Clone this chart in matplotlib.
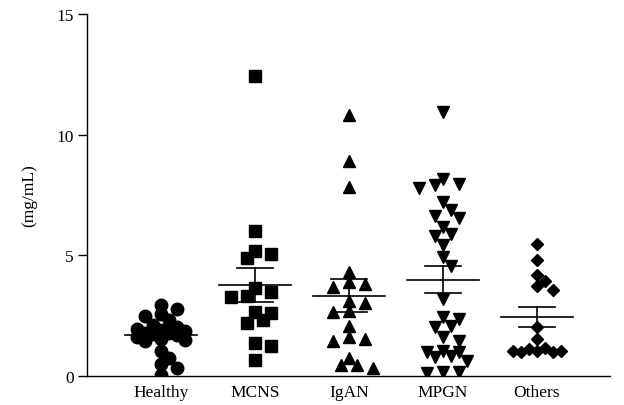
import numpy as np
import matplotlib.pyplot as plt

plt.rcParams['font.family'] = ['Liberation Serif', 'DejaVu Serif']

groups = ['Healthy', 'MCNS', 'IgAN', 'MPGN', 'Others']
markers = ['o', 's', '^', 'v', 'D']

healthy = [2.95, 2.78, 2.55, 2.48, 2.3, 2.1, 2.05, 1.95, 1.9, 1.85, 1.8, 1.8,
           1.75, 1.7, 1.6, 1.55, 1.5, 1.45, 1.05, 0.75, 0.5, 0.35, 0.05]
mcns = [12.43, 6.0, 5.2, 5.06, 4.9, 3.64, 3.47, 3.33, 3.29, 2.64, 2.61, 2.32,
        2.2, 1.37, 1.23, 0.68]
igan = [10.8, 8.89, 7.83, 4.3, 3.89, 3.82, 3.68, 3.12, 3.03, 2.68, 2.64, 2.06,
        1.61, 1.54, 1.47, 0.73, 0.46, 0.46, 0.32]
mpgn = [10.95, 8.15, 7.97, 7.9, 7.79, 7.23, 6.86, 6.65, 6.54, 6.17, 5.89, 5.8,
        5.41, 4.93, 4.55, 3.2, 2.44, 2.37, 2.09, 2.02, 1.61, 1.47, 1.05, 0.98,
        0.98, 0.84, 0.78, 0.63, 0.15, 0.15, 0.12]
others = [5.48, 4.79, 4.19, 3.95, 3.72, 3.57, 2.02, 1.53, 1.15, 1.1, 1.05,
          1.05, 1.05, 1.0, 1.0]

data = [healthy, mcns, igan, mpgn, others]

# pixel scale of the axes, used to lay out the swarm
PX_X = 94.0
PX_Y = 24.13


def swarm(values, center, step=8.0, dmin=9.5, kmax=3):
    values = np.asarray(values)
    xs = np.zeros(len(values))
    placed = []
    cands = [0]
    for k in range(1, kmax + 1):
        cands += [k, -k]
    for i in np.argsort(values)[::-1]:
        y = values[i] * PX_Y
        best, best_d = 0, -1
        for k in cands:
            x = k * step
            d = min([np.hypot(x - px, y - py) for px, py in placed] + [1e9])
            if d >= dmin:
                best = k
                break
            if d > best_d:
                best, best_d = k, d
        placed.append((best * step, y))
        xs[i] = center + best * step / PX_X
    return xs


fig = plt.figure(figsize=(6.24, 4.06), dpi=100)
ax = fig.add_axes([87 / 624, 1 - 377 / 406, 523 / 624, 362 / 406])

sizes = [9, 8.3, 8.6, 8.6, 6.6]
for i, vals in enumerate(data):
    xs = swarm(vals, i)
    ax.plot(xs, vals, linestyle='none', marker=markers[i], ms=sizes[i],
            color='black', mec='black', zorder=3)
    m = np.mean(vals)
    sem = np.std(vals, ddof=1) / np.sqrt(len(vals))
    ax.plot([i - 0.38, i + 0.38], [m, m], color='black', lw=1.2, zorder=4)
    ax.plot([i, i], [m - sem, m + sem], color='black', lw=1.2, zorder=4)
    ax.plot([i - 0.19, i + 0.19], [m + sem, m + sem], color='black', lw=1.2, zorder=4)
    ax.plot([i - 0.19, i + 0.19], [m - sem, m - sem], color='black', lw=1.2, zorder=4)

ax.set_xlim(-0.787, 4.777)
ax.set_ylim(0, 15)
ax.set_yticks([0, 5, 10, 15])
ax.set_xticks(range(len(groups)))
ax.set_xticklabels(groups)
ax.tick_params(axis='x', length=0, pad=6, labelsize=12.5)
ax.tick_params(axis='y', length=6.5, width=1, pad=3, labelsize=12.5)
ax.set_ylabel('(mg/mL)', fontsize=12.5, labelpad=14)
ax.spines['top'].set_visible(False)
ax.spines['right'].set_visible(False)
ax.spines['left'].set_linewidth(1)
ax.spines['bottom'].set_linewidth(1)
ax.patch.set_visible(False)
for sp in ['left', 'bottom']:
    ax.spines[sp].set_clip_on(False)

fig.savefig('out.png', dpi=100)
